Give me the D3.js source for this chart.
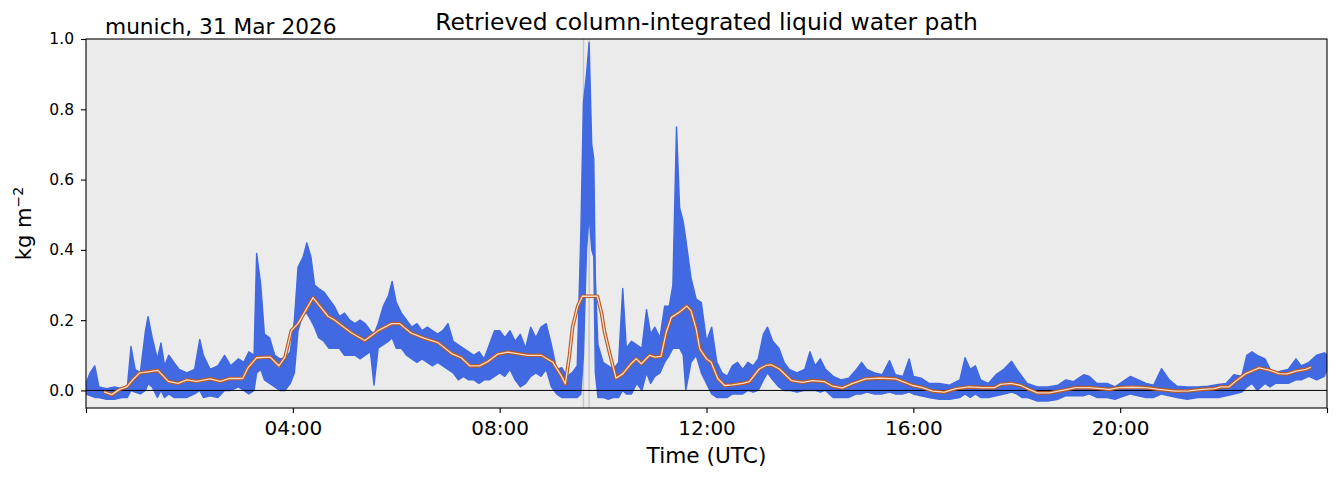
<!DOCTYPE html>
<html>
<head>
<meta charset="utf-8">
<script src="https://cdn.jsdelivr.net/npm/d3@7"></script>
<style>
  body { margin: 0; background: #fff; }
  svg { font-family: "DejaVu Sans", sans-serif; }
</style>
</head>
<body>
<div id="chart"></div>
<script>
// retrieved LWP, envelope of the raw samples (hours UTC, kg m-2)
const rawHours = [0.00,0.08,0.17,0.25,0.40,0.55,0.70,0.80,0.87,0.95,1.05,1.15,1.20,1.28,1.38,1.45,1.52,1.60,1.70,1.80,1.95,2.10,2.20,2.27,2.40,2.55,2.68,2.80,2.95,3.05,3.15,3.25,3.30,3.38,3.45,3.55,3.65,3.75,3.85,3.95,4.03,4.10,4.20,4.27,4.35,4.42,4.50,4.60,4.70,4.80,4.90,5.00,5.10,5.20,5.30,5.40,5.50,5.57,5.65,5.75,5.85,5.92,6.00,6.10,6.20,6.30,6.40,6.50,6.60,6.70,6.80,6.90,7.00,7.10,7.20,7.30,7.40,7.50,7.60,7.70,7.80,7.90,8.00,8.10,8.20,8.30,8.40,8.50,8.60,8.70,8.80,8.90,9.00,9.10,9.20,9.30,9.40,9.50,9.57,9.62,9.68,9.73,9.78,9.82,9.85,9.90,10.00,10.10,10.20,10.30,10.38,10.45,10.55,10.65,10.75,10.84,10.92,11.00,11.10,11.19,11.28,11.35,11.42,11.48,11.55,11.60,11.70,11.80,11.90,12.00,12.10,12.20,12.30,12.40,12.50,12.60,12.70,12.80,12.90,13.00,13.10,13.18,13.28,13.40,13.50,13.60,13.75,13.90,14.00,14.10,14.20,14.30,14.45,14.60,14.75,14.90,15.00,15.10,15.25,15.40,15.54,15.65,15.80,15.92,16.00,16.15,16.30,16.50,16.70,16.90,17.00,17.10,17.20,17.30,17.45,17.60,17.75,17.90,18.00,18.10,18.20,18.40,18.60,18.80,18.95,19.10,19.30,19.40,19.55,19.75,19.90,20.00,20.20,20.35,20.50,20.65,20.80,20.95,21.10,21.30,21.50,21.70,21.90,22.05,22.20,22.35,22.45,22.55,22.65,22.80,22.90,23.00,23.10,23.25,23.40,23.50,23.65,23.80,23.95,24.00];
const rawLow = [-0.01,-0.015,-0.02,-0.02,-0.025,-0.025,-0.02,-0.02,0.0,-0.005,-0.01,0.0,0.02,0.01,-0.02,0.0,-0.02,-0.01,-0.02,-0.02,-0.02,-0.01,0.0,-0.02,-0.015,-0.02,0.0,0.0,0.01,0.0,-0.01,0.0,0.05,0.06,0.03,0.02,0.01,0.0,0.0,0.02,0.05,0.17,0.22,0.22,0.2,0.18,0.15,0.14,0.12,0.12,0.12,0.10,0.10,0.10,0.09,0.10,0.11,0.015,0.12,0.13,0.14,0.15,0.12,0.12,0.10,0.09,0.08,0.09,0.08,0.07,0.08,0.07,0.06,0.05,0.03,0.04,0.03,0.03,0.02,0.03,0.03,0.04,0.05,0.04,0.06,0.03,0.01,0.02,0.04,0.05,0.04,0.06,0.01,-0.01,-0.02,-0.02,-0.02,-0.02,-0.01,0.1,0.4,0.5,0.4,0.38,0.05,-0.02,-0.02,-0.025,-0.02,-0.02,0.0,-0.01,-0.01,0.02,0.0,0.05,0.02,0.04,0.05,0.08,0.1,0.12,0.12,0.12,0.10,0.0,0.08,0.10,0.05,0.02,-0.01,-0.02,-0.02,-0.02,-0.01,-0.01,-0.01,0.0,-0.005,0.0,0.03,0.05,0.03,0.01,0.0,0.0,-0.005,0.0,0.0,0.0,-0.005,0.0,-0.02,-0.02,-0.02,-0.01,-0.01,-0.005,-0.01,-0.01,-0.005,-0.01,-0.01,-0.005,-0.01,-0.015,-0.02,-0.025,-0.025,-0.02,-0.01,-0.02,-0.01,-0.02,-0.02,-0.015,-0.01,-0.005,-0.01,-0.02,-0.02,-0.03,-0.03,-0.025,-0.015,-0.015,-0.015,-0.01,-0.02,-0.02,-0.025,-0.02,-0.01,-0.015,-0.02,-0.02,-0.01,-0.015,-0.02,-0.025,-0.02,-0.02,-0.02,-0.015,-0.01,-0.005,0.01,0.02,0.0,0.02,0.01,0.02,0.02,0.02,0.03,0.03,0.04,0.03,0.04,0.06];
const rawHigh = [0.02,0.05,0.07,0.01,0.005,0.01,0.005,0.01,0.125,0.06,0.05,0.17,0.21,0.15,0.09,0.135,0.07,0.10,0.08,0.06,0.05,0.06,0.145,0.10,0.06,0.07,0.10,0.07,0.09,0.08,0.11,0.10,0.39,0.30,0.16,0.15,0.10,0.09,0.09,0.11,0.20,0.35,0.38,0.42,0.38,0.30,0.29,0.28,0.26,0.24,0.21,0.22,0.20,0.19,0.20,0.19,0.17,0.16,0.19,0.24,0.27,0.31,0.25,0.22,0.20,0.18,0.19,0.17,0.18,0.17,0.16,0.17,0.19,0.14,0.13,0.12,0.11,0.10,0.11,0.09,0.13,0.17,0.17,0.15,0.17,0.14,0.16,0.12,0.18,0.15,0.18,0.19,0.13,0.06,0.065,0.04,0.05,0.07,0.45,0.82,0.90,0.99,0.70,0.66,0.32,0.13,0.08,0.07,0.06,0.08,0.29,0.12,0.14,0.13,0.12,0.23,0.16,0.18,0.15,0.24,0.24,0.30,0.75,0.52,0.48,0.43,0.32,0.26,0.25,0.14,0.18,0.08,0.05,0.04,0.07,0.08,0.06,0.08,0.07,0.09,0.16,0.18,0.14,0.12,0.08,0.06,0.05,0.06,0.11,0.07,0.09,0.06,0.04,0.03,0.035,0.06,0.08,0.06,0.05,0.045,0.085,0.045,0.04,0.09,0.04,0.035,0.02,0.02,0.015,0.03,0.093,0.06,0.07,0.03,0.02,0.045,0.06,0.083,0.06,0.04,0.02,0.01,0.01,0.015,0.03,0.025,0.045,0.04,0.02,0.02,0.01,0.02,0.04,0.03,0.02,0.015,0.062,0.03,0.012,0.01,0.01,0.012,0.017,0.02,0.045,0.04,0.10,0.11,0.10,0.09,0.06,0.05,0.055,0.06,0.09,0.07,0.08,0.10,0.107,0.10];

// running mean (orange)
const meanHours = [0.35,0.50,0.65,0.79,0.91,1.04,1.20,1.39,1.59,1.78,1.95,2.14,2.40,2.60,2.78,3.03,3.13,3.30,3.56,3.73,3.85,3.97,4.10,4.39,4.68,4.81,5.13,5.39,5.65,5.91,6.07,6.29,6.55,6.81,7.07,7.26,7.42,7.61,7.77,7.96,8.16,8.54,8.80,9.03,9.19,9.27,9.35,9.41,9.51,9.60,9.89,9.97,10.03,10.13,10.25,10.38,10.54,10.64,10.74,10.90,11.00,11.12,11.22,11.32,11.47,11.62,11.70,11.80,11.87,12.00,12.09,12.22,12.35,12.50,12.70,12.83,13.02,13.15,13.25,13.41,13.64,13.86,14.05,14.28,14.44,14.63,14.83,15.08,15.34,15.66,15.99,16.18,16.37,16.60,16.82,17.08,17.33,17.57,17.69,17.89,18.08,18.24,18.40,18.63,18.88,19.14,19.40,19.63,19.79,19.98,20.23,20.50,20.75,21.07,21.33,21.59,21.82,21.95,22.10,22.24,22.43,22.69,22.88,23.07,23.23,23.40,23.59,23.69];
const meanValues = [-0.004,-0.012,0.003,0.01,0.031,0.05,0.053,0.057,0.026,0.02,0.03,0.026,0.033,0.026,0.034,0.034,0.064,0.093,0.095,0.07,0.095,0.17,0.19,0.264,0.211,0.2,0.164,0.142,0.17,0.19,0.19,0.163,0.148,0.136,0.105,0.093,0.07,0.07,0.082,0.103,0.109,0.1,0.1,0.08,0.042,0.019,0.1,0.18,0.24,0.268,0.268,0.22,0.165,0.104,0.035,0.047,0.076,0.09,0.076,0.1,0.095,0.097,0.165,0.208,0.222,0.24,0.227,0.175,0.118,0.09,0.08,0.033,0.014,0.016,0.02,0.025,0.061,0.071,0.073,0.061,0.028,0.023,0.028,0.025,0.012,0.007,0.02,0.033,0.035,0.033,0.014,0.008,-0.002,-0.005,0.005,0.01,0.008,0.008,0.017,0.02,0.014,0.003,-0.007,-0.007,0.0,0.008,0.008,0.005,0.003,0.008,0.009,0.008,0.003,-0.002,-0.001,0.003,0.005,0.01,0.01,0.027,0.048,0.064,0.058,0.048,0.047,0.055,0.06,0.066];

// flagged times (grey verticals)
const flagHours = [9.62, 9.73];

const yTicks = [0.0, 0.2, 0.4, 0.6, 0.8, 1.0];
const dayStart = Date.UTC(2026, 2, 31);
const toDate = h => new Date(dayStart + h * 3600e3);

// layout
const W = 1339, H = 478;
const margin = {top: 39, right: 12, bottom: 70, left: 86};
const width = W - margin.left - margin.right,
    height = H - margin.top - margin.bottom;

const svg = d3.select("#chart").append("svg")
    .attr("width", W)
    .attr("height", H);

const g = svg.append("g")
    .attr("transform", "translate(" + margin.left + "," + margin.top + ")");

// scales
const x = d3.scaleUtc()
    .domain([toDate(0), toDate(24)])
    .range([0, width]);
const y = d3.scaleLinear()
    .domain([-0.05, 1.0])
    .range([height, 0]);

// background
g.append("rect")
    .attr("width", width)
    .attr("height", height)
    .attr("fill", "#ebebeb");

g.append("clipPath").attr("id", "clip")
    .append("rect").attr("width", width).attr("height", height);
const plot = g.append("g").attr("clip-path", "url(#clip)");

// flag lines
plot.selectAll(".flag")
    .data(flagHours)
    .enter().append("line")
    .attr("class", "flag")
    .attr("x1", d => x(toDate(d))).attr("x2", d => x(toDate(d)))
    .attr("y1", 0).attr("y2", height)
    .attr("stroke", "#c8c8c8")
    .attr("stroke-width", 1.5);

// raw LWP envelope
const raw = rawHours.map((h, i) => ({t: toDate(h), lo: rawLow[i], hi: rawHigh[i]}));
plot.append("path")
    .datum(raw)
    .attr("fill", "#4169e1")
    .attr("stroke", "#4169e1")
    .attr("stroke-width", 1.4)
    .attr("stroke-linejoin", "round")
    .attr("d", d3.area()
        .x(d => x(d.t))
        .y0(d => y(d.lo))
        .y1(d => y(d.hi)));

// zero line
plot.append("line")
    .attr("x1", 0).attr("x2", width)
    .attr("y1", y(0)).attr("y2", y(0))
    .attr("stroke", "black")
    .attr("stroke-width", 1);

// running mean, drawn as outlined line
const mean = meanHours.map((h, i) => ({t: toDate(h), v: meanValues[i]}));
const meanLine = d3.line().x(d => x(d.t)).y(d => y(d.v));
plot.append("path")
    .datum(mean)
    .attr("fill", "none")
    .attr("stroke", "#b85a26")
    .attr("stroke-width", 3.6)
    .attr("stroke-linejoin", "round")
    .attr("d", meanLine);
plot.append("path")
    .datum(mean)
    .attr("fill", "none")
    .attr("stroke", "#f8dcc6")
    .attr("stroke-width", 1.3)
    .attr("stroke-linejoin", "round")
    .attr("d", meanLine);

// axes
const xAxis = g.append("g")
    .attr("transform", "translate(0," + height + ")")
    .call(d3.axisBottom(x)
        .ticks(d3.utcHour.every(4))
        .tickSize(5)
        .tickFormat(d => (d.getUTCHours() === 0 ? "" : d3.utcFormat("%H:%M")(d))));
xAxis.select(".domain").remove();
xAxis.selectAll("text")
    .attr("font-size", "20px")
    .attr("font-family", "DejaVu Sans")
    .attr("fill", "black")
    .attr("dy", "0.95em");
xAxis.selectAll("line").attr("stroke-width", 1.1);

const yAxis = g.append("g")
    .call(d3.axisLeft(y)
        .tickValues(yTicks)
        .tickSize(5)
        .tickFormat(d3.format(".1f")));
yAxis.select(".domain").remove();
yAxis.selectAll("text")
    .attr("font-size", "15.5px")
    .attr("font-family", "DejaVu Sans")
    .attr("fill", "black")
    .attr("x", -12);
yAxis.selectAll("line").attr("stroke-width", 1.1);

// frame
g.append("rect")
    .attr("width", width)
    .attr("height", height)
    .attr("fill", "none")
    .attr("stroke", "black")
    .attr("stroke-width", 1.1);

// labels
svg.append("text")
    .attr("x", margin.left + width / 2)
    .attr("y", 463)
    .attr("text-anchor", "middle")
    .attr("font-size", "21.7px")
    .text("Time (UTC)");

const yl = svg.append("text")
    .attr("transform", "translate(31," + (margin.top + height / 2) + ") rotate(-90)")
    .attr("text-anchor", "middle")
    .attr("font-size", "21px");
yl.append("tspan").text("kg m");
yl.append("tspan").attr("font-size", "14px").attr("dy", "-8").text("\u22122");

svg.append("text")
    .attr("x", margin.left + width / 2)
    .attr("y", 30)
    .attr("text-anchor", "middle")
    .attr("font-size", "23.4px")
    .text("Retrieved column-integrated liquid water path");

svg.append("text")
    .attr("x", 105)
    .attr("y", 34)
    .attr("font-size", "21.7px")
    .text("munich, 31 Mar 2026");
</script>
</body>
</html>
